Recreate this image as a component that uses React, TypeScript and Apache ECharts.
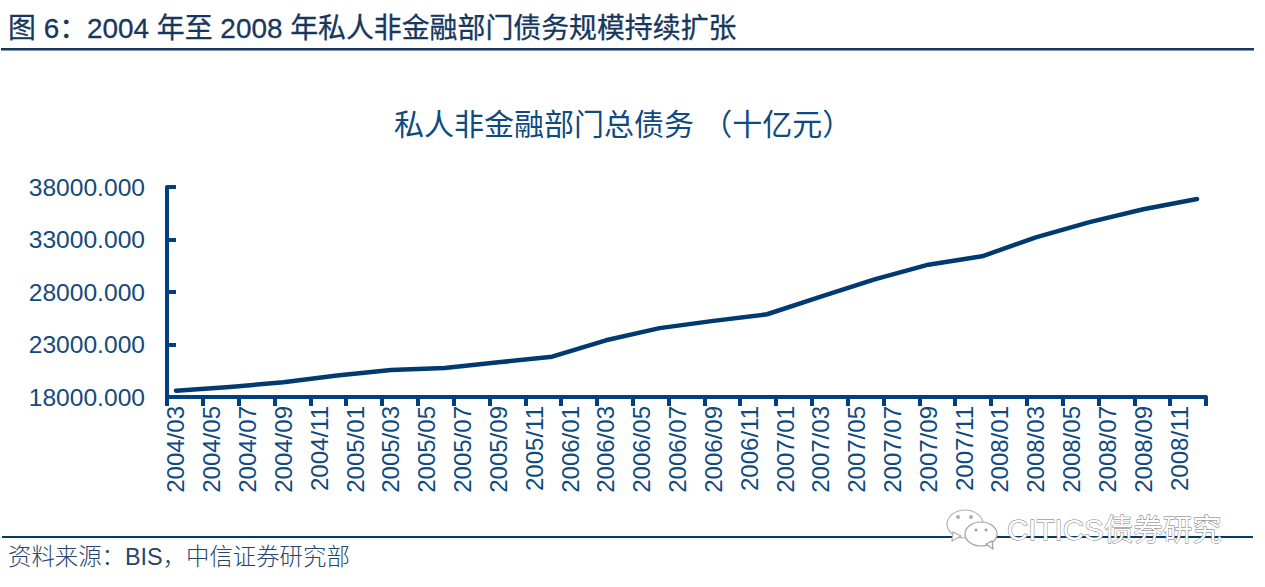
import React, { useEffect, useRef } from "react";
import * as echarts from "echarts";

const heading = "图 6：2004 年至 2008 年私人非金融部门债务规模持续扩张";
const chartTitle = "私人非金融部门总债务 （十亿元）";
const sourceNote = "资料来源：BIS，中信证券研究部";
const watermark = "CITICS债券研究";

const years = [2004, 2005, 2006, 2007, 2008];
const months = ["01", "02", "03", "04", "05", "06", "07", "08", "09", "10", "11", "12"];
const categories: string[] = years
  .flatMap((y) => months.map((m) => `${y}/${m}`))
  .filter((c) => c >= "2004/03");

// Quarter-end readings, 2004/03 to 2008/12 (the series is quarterly)
const quarterlyDebt = [
  18600, 18960, 19400, 20050, 20570, 20760, 21300, 21840, 23400, 24560,
  25250, 25880, 27550, 29200, 30600, 31400, 33200, 34650, 35880, 36860,
];
const monthlySlots = categories.map((_, i) => (i % 3 === 0 ? quarterlyDebt[i / 3] : null));

const yTicks = [18000, 23000, 28000, 33000, 38000];

const LATIN_CJK = '"Liberation Sans", "Noto Sans CJK SC", sans-serif';
const AXIS_BLUE = "#004080";
const LABEL_BLUE = "#144a7c";

export default function App() {
  const ref = useRef<HTMLDivElement>(null);
  useEffect(() => {
    const chart = echarts.init(ref.current!, null, { renderer: "svg" });
    chart.setOption({
      animation: false,
      backgroundColor: "#ffffff",
      textStyle: { fontFamily: LATIN_CJK },
      title: {
        text: chartTitle,
        left: 394,
        top: 109,
        padding: 0,
        textStyle: { fontSize: 30, fontWeight: "normal", color: "#0f4a80", fontFamily: LATIN_CJK },
      },
      grid: { left: 167, right: 59, top: 187, bottom: 190, containLabel: false },
      xAxis: {
        type: "category",
        data: categories,
        boundaryGap: true,
        axisLine: { lineStyle: { color: AXIS_BLUE, width: 4 } },
        axisTick: { show: true, interval: 1, length: 9, lineStyle: { color: AXIS_BLUE, width: 4 } },
        axisLabel: {
          interval: 1,
          rotate: 90,
          margin: 9,
          fontSize: 24,
          color: "#0f4a80",
          fontFamily: LATIN_CJK,
        },
        splitLine: { show: false },
      },
      yAxis: {
        type: "value",
        min: yTicks[0],
        max: yTicks[yTicks.length - 1],
        axisLine: { show: true, lineStyle: { color: AXIS_BLUE, width: 4 } },
        axisTick: {
          show: true,
          inside: true,
          length: 9,
          customValues: yTicks,
          lineStyle: { color: AXIS_BLUE, width: 4 },
        },
        axisLabel: {
          customValues: yTicks,
          margin: 22,
          fontSize: 24.6,
          color: LABEL_BLUE,
          fontFamily: LATIN_CJK,
          verticalAlign: "middle",
          lineHeight: 26,
          formatter: (v: number) => v.toFixed(3),
        },
        splitLine: { show: false },
      },
      series: [
        {
          type: "line",
          data: monthlySlots,
          connectNulls: true,
          showSymbol: false,
          smooth: false,
          lineStyle: { color: "#003a70", width: 4.5, cap: "round", join: "round" },
        },
      ],
      graphic: [
        {
          type: "text",
          x: 8,
          y: 15,
          style: {
            text: heading,
            fontSize: 27.9,
            fontFamily: LATIN_CJK,
            fill: "#17375e",
            stroke: "#17375e",
            lineWidth: 0.3,
          },
        },
        { type: "rect", shape: { x: 1, y: 48, width: 1253, height: 2.5 }, style: { fill: "#17375e" } },
        { type: "rect", shape: { x: 2, y: 536, width: 1251, height: 2 }, style: { fill: "#003a70" } },
        {
          type: "text",
          x: 8,
          y: 545,
          style: { text: sourceNote, fontSize: 23.4, fontFamily: LATIN_CJK, fill: "#27456b", fontWeight: 300 },
        },
        {
          type: "ellipse",
          shape: { cx: 965, cy: 524, rx: 18, ry: 14 },
          style: { fill: "#ffffff", stroke: "#b0b0b0", lineWidth: 1.2 },
        },
        {
          type: "polygon",
          shape: { points: [[953, 532], [952, 541], [961, 536]] },
          style: { fill: "#ffffff", stroke: "#b0b0b0", lineWidth: 1.2 },
        },
        {
          type: "ellipse",
          shape: { cx: 981, cy: 534, rx: 16, ry: 12 },
          style: { fill: "#ffffff", stroke: "#a0a0a0", lineWidth: 1.2 },
        },
        {
          type: "polygon",
          shape: { points: [[986, 544], [993, 549], [992, 541]] },
          style: { fill: "#ffffff", stroke: "#a0a0a0", lineWidth: 1.2 },
        },
        { type: "circle", shape: { cx: 958, cy: 517, r: 2 }, style: { fill: "#b0b0b0" } },
        { type: "circle", shape: { cx: 971, cy: 517, r: 2 }, style: { fill: "#b0b0b0" } },
        { type: "circle", shape: { cx: 976, cy: 530, r: 1.5 }, style: { fill: "#a0a0a0" } },
        { type: "circle", shape: { cx: 986, cy: 530, r: 1.5 }, style: { fill: "#a0a0a0" } },
        {
          type: "text",
          x: 1007,
          y: 515,
          style: {
            text: watermark,
            fontSize: 29.5,
            fontFamily: LATIN_CJK,
            fill: "#ffffff",
            stroke: "#707070",
            lineWidth: 0.9,
          },
        },
      ],
    });
    return () => chart.dispose();
  }, []);
  return (
    <div
      ref={ref}
      style={{ position: "fixed", left: 0, top: 0, width: 1265, height: 587, background: "#fff" }}
    />
  );
}
